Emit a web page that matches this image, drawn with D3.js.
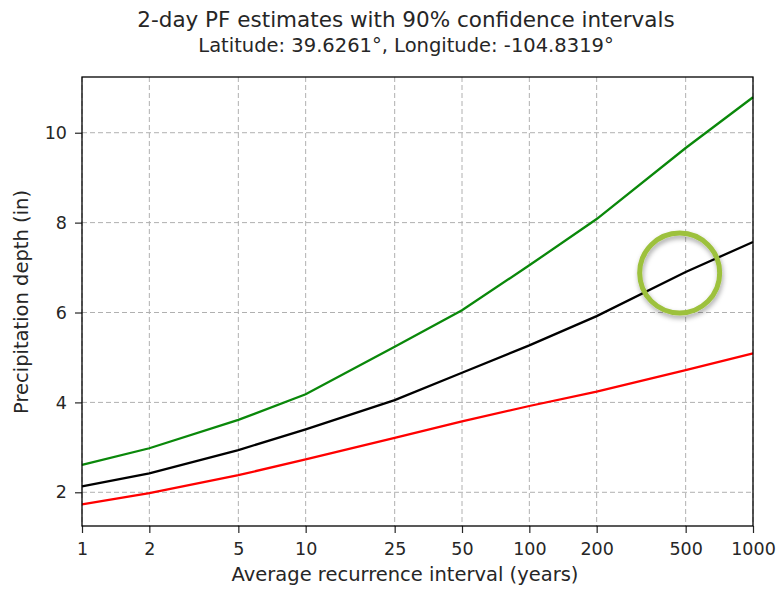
<!DOCTYPE html>
<html>
<head>
<meta charset="utf-8">
<title>PF estimates</title>
<script src="https://d3js.org/d3.v7.min.js"></script>
<style>
  body { margin: 0; background: #fff; }
  text { font-family: "DejaVu Sans", sans-serif; fill: #262626; }
</style>
</head>
<body>
<div id="chart"></div>
<script>
// recurrence intervals (years)
const intervals = [1, 2, 5, 10, 25, 50, 100, 200, 500, 1000];
// precipitation depth (in)
const median = [2.13, 2.42, 2.94, 3.40, 4.05, 4.66, 5.27, 5.92, 6.90, 7.57];
const upper  = [2.61, 2.98, 3.61, 4.18, 5.24, 6.05, 7.05, 8.08, 9.66, 10.79];
const lower  = [1.73, 1.98, 2.38, 2.73, 3.21, 3.58, 3.92, 4.24, 4.72, 5.09];
const yTicks = [2, 4, 6, 8, 10];

const W = 777, H = 589;
const margin = {top: 77, right: 24, bottom: 63, left: 82};
const width = W - margin.left - margin.right,
      height = H - margin.top - margin.bottom;

const svg = d3.select("#chart").append("svg")
    .attr("width", W).attr("height", H);

// drop shadow for the highlight ring
const defs = svg.append("defs");
const f = defs.append("filter").attr("id", "shadow")
    .attr("x", "-30%").attr("y", "-30%").attr("width", "160%").attr("height", "160%");
f.append("feDropShadow").attr("dx", 1).attr("dy", 3).attr("stdDeviation", 2.5)
    .attr("flood-color", "#000").attr("flood-opacity", 0.35);

const g = svg.append("g").attr("transform", `translate(${margin.left},${margin.top})`);

const x = d3.scaleLog().domain([1, 1000]).range([0, width]);
const y = d3.scaleLinear().domain([1.25, 11.24]).range([height, 0]);

// grid
g.append("g").selectAll("line").data(intervals).join("line")
    .attr("x1", d => x(d)).attr("x2", d => x(d))
    .attr("y1", 0).attr("y2", height)
    .attr("stroke", "#b0b0b0").attr("stroke-width", 1).attr("stroke-dasharray", "5,3");
g.append("g").selectAll("line").data(yTicks).join("line")
    .attr("x1", 0).attr("x2", width)
    .attr("y1", d => y(d)).attr("y2", d => y(d))
    .attr("stroke", "#b0b0b0").attr("stroke-width", 1).attr("stroke-dasharray", "5,3");

// axes
const xAxis = g.append("g").attr("transform", `translate(0,${height})`)
    .call(d3.axisBottom(x).tickValues(intervals).tickFormat(d3.format("d")).tickSize(7).tickPadding(10));
const yAxis = g.append("g")
    .call(d3.axisLeft(y).tickValues(yTicks).tickSize(7).tickPadding(8));
[xAxis, yAxis].forEach(a => {
  a.select(".domain").remove();
  a.selectAll("line").attr("stroke", "#262626").attr("stroke-width", 1.2);
  a.selectAll("text").style("font-size", "17.5px").attr("fill", "#262626");
});

// lines
const line = d3.line().x((d, i) => x(intervals[i])).y(d => y(d));
[[upper, "#0a880a"], [median, "#000000"], [lower, "#ff0000"]].forEach(([s, c]) => {
  g.append("path").datum(s).attr("d", line)
    .attr("fill", "none").attr("stroke", c).attr("stroke-width", 2.3);
});

// frame
g.append("rect").attr("width", width).attr("height", height)
    .attr("fill", "none").attr("stroke", "#000").attr("stroke-width", 1.3);

// highlight ring around the 500-year median
g.append("circle")
    .attr("cx", x(500) - 6).attr("cy", y(6.9) + 1)
    .attr("r", 40)
    .attr("fill", "none").attr("stroke", "#9dc13c").attr("stroke-width", 5)
    .attr("filter", "url(#shadow)");

// titles
svg.append("text").attr("x", 406).attr("y", 27).attr("text-anchor", "middle")
    .style("font-size", "21.5px").text("2-day PF estimates with 90% confidence intervals");
svg.append("text").attr("x", 406).attr("y", 52).attr("text-anchor", "middle")
    .style("font-size", "19.5px").text("Latitude: 39.6261°, Longitude: -104.8319°");

svg.append("text").attr("x", 405).attr("y", 581).attr("text-anchor", "middle")
    .style("font-size", "19.5px").text("Average recurrence interval (years)");
svg.append("text").attr("transform", `translate(28,${302}) rotate(-90)`)
    .attr("text-anchor", "middle")
    .style("font-size", "19.5px").text("Precipitation depth (in)");
</script>
</body>
</html>
